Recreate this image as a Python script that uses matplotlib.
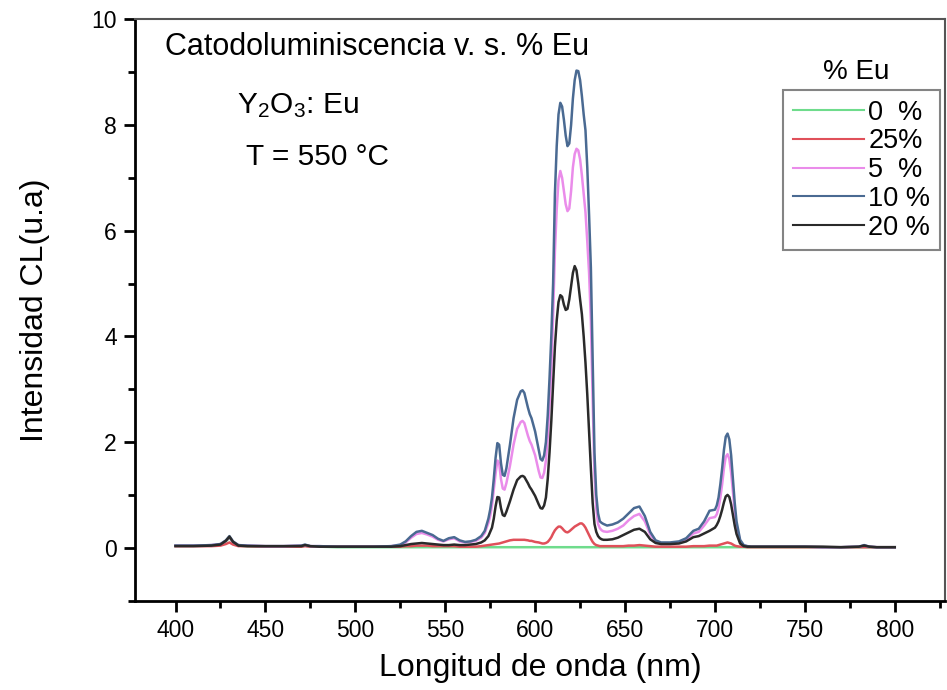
import matplotlib
matplotlib.use("Agg")
import matplotlib.pyplot as plt
from matplotlib.ticker import MultipleLocator

plt.rcParams['font.family'] = ['Liberation Sans', 'DejaVu Sans']
plt.rcParams['mathtext.default'] = 'regular'

# ---- wavelength blocks (nm) ----
wl_a = [400, 410, 420, 425, 428, 430, 432, 435, 440, 450, 460, 470, 472, 475, 480, 490, 500, 510, 520,
        525, 528, 531, 534, 537, 540, 543, 546, 549, 552, 555, 558, 561, 564, 567, 570, 572]
wl_b = [574, 575, 576, 577, 578, 579, 580, 581, 582, 583, 584, 586, 588, 590, 592, 593, 594, 596, 597,
        598, 600, 602, 603]
wl_c = [604, 605, 606, 607, 608, 609, 610, 611, 612, 613, 614, 615, 616, 617, 618, 619, 620, 621, 622,
        623, 624, 625, 626, 627, 628, 629, 630, 631, 632, 633, 634, 635, 636, 637, 638, 640]
wl_d = [643, 646, 649, 652, 655, 658, 661, 664, 667, 670, 675, 680, 684, 688, 691, 694, 697, 700]
wl_e = [701, 702, 703, 704, 705, 706, 707, 708, 709, 710, 711, 712, 714, 716, 718, 720, 725, 730, 740,
        750, 760, 770, 780, 783, 786, 790, 800]

# ---- 10 % Eu ----
eu10_a = [0.04, 0.04, 0.05, 0.07, 0.14, 0.22, 0.12, 0.05, 0.04, 0.03, 0.03, 0.04, 0.06, 0.03, 0.03, 0.02, 0.02, 0.02, 0.03,
          0.06, 0.12, 0.22, 0.30, 0.32, 0.28, 0.24, 0.17, 0.13, 0.18, 0.20, 0.14, 0.11, 0.12, 0.15, 0.22, 0.32]
eu10_b = [0.55, 0.72, 0.95, 1.30, 1.70, 1.98, 1.95, 1.60, 1.38, 1.36, 1.50, 1.95, 2.45, 2.80, 2.96, 2.98, 2.93, 2.65, 2.53,
          2.45, 2.20, 1.85, 1.68]
eu10_c = [1.65, 1.75, 2.00, 2.50, 3.20, 4.00, 5.00, 6.70, 7.60, 8.20, 8.42, 8.35, 8.10, 7.80, 7.60, 7.65, 8.00, 8.50, 8.85,
          9.03, 9.02, 8.85, 8.55, 8.20, 7.90, 7.20, 6.30, 5.30, 3.50, 1.80, 1.00, 0.65, 0.50, 0.47, 0.45, 0.42]
eu10_d = [0.44, 0.48, 0.55, 0.65, 0.75, 0.78, 0.60, 0.30, 0.14, 0.10, 0.10, 0.12, 0.18, 0.32, 0.36, 0.50, 0.70, 0.72]
eu10_e = [0.80, 0.95, 1.20, 1.50, 1.85, 2.10, 2.16, 2.05, 1.75, 1.30, 0.85, 0.50, 0.15, 0.05, 0.03, 0.02, 0.02, 0.02, 0.02,
          0.02, 0.01, 0.01, 0.02, 0.05, 0.02, 0.01, 0.01]

# ---- 5 % Eu ----
eu5_a = [0.04, 0.04, 0.05, 0.07, 0.13, 0.20, 0.11, 0.05, 0.04, 0.03, 0.03, 0.04, 0.05, 0.03, 0.03, 0.02, 0.02, 0.02, 0.03,
         0.05, 0.10, 0.19, 0.26, 0.28, 0.25, 0.21, 0.15, 0.12, 0.16, 0.18, 0.12, 0.10, 0.11, 0.13, 0.19, 0.28]
eu5_b = [0.47, 0.60, 0.80, 1.10, 1.40, 1.65, 1.60, 1.30, 1.12, 1.10, 1.22, 1.55, 1.95, 2.25, 2.38, 2.40, 2.36, 2.12, 2.02,
         1.95, 1.75, 1.45, 1.33]
eu5_c = [1.32, 1.42, 1.65, 2.10, 2.70, 3.40, 4.40, 5.60, 6.40, 6.95, 7.13, 7.00, 6.75, 6.50, 6.37, 6.42, 6.75, 7.20, 7.45,
         7.55, 7.52, 7.35, 7.05, 6.70, 6.35, 5.80, 5.20, 4.30, 2.80, 1.40, 0.75, 0.45, 0.37, 0.33, 0.31, 0.30]
eu5_d = [0.32, 0.36, 0.42, 0.52, 0.60, 0.64, 0.50, 0.25, 0.11, 0.08, 0.08, 0.10, 0.15, 0.27, 0.30, 0.42, 0.56, 0.58]
eu5_e = [0.63, 0.75, 0.95, 1.20, 1.50, 1.72, 1.77, 1.68, 1.42, 1.05, 0.70, 0.42, 0.12, 0.04, 0.03, 0.02, 0.02, 0.02, 0.02,
         0.02, 0.01, 0.01, 0.02, 0.04, 0.02, 0.01, 0.01]

# ---- 20 % Eu ----
eu20_a = [0.03, 0.03, 0.04, 0.06, 0.13, 0.21, 0.11, 0.04, 0.03, 0.03, 0.03, 0.03, 0.05, 0.03, 0.02, 0.02, 0.02, 0.02, 0.02,
          0.03, 0.05, 0.07, 0.08, 0.09, 0.08, 0.07, 0.06, 0.05, 0.05, 0.06, 0.05, 0.05, 0.06, 0.07, 0.10, 0.14]
eu20_b = [0.22, 0.30, 0.38, 0.55, 0.78, 0.96, 0.95, 0.75, 0.62, 0.60, 0.68, 0.88, 1.10, 1.28, 1.35, 1.36, 1.34, 1.22, 1.15,
          1.10, 0.98, 0.82, 0.75]
eu20_c = [0.74, 0.80, 0.95, 1.30, 1.80, 2.40, 3.10, 3.80, 4.30, 4.65, 4.78, 4.75, 4.60, 4.50, 4.52, 4.70, 4.95, 5.20, 5.33,
          5.25, 5.00, 4.70, 4.42, 4.00, 3.50, 2.90, 2.20, 1.50, 0.85, 0.45, 0.30, 0.22, 0.18, 0.16, 0.15, 0.15]
eu20_d = [0.16, 0.19, 0.24, 0.29, 0.34, 0.36, 0.30, 0.16, 0.09, 0.07, 0.07, 0.08, 0.12, 0.20, 0.22, 0.27, 0.32, 0.38]
eu20_e = [0.43, 0.50, 0.60, 0.72, 0.86, 0.97, 1.00, 0.96, 0.82, 0.62, 0.42, 0.26, 0.08, 0.03, 0.02, 0.02, 0.02, 0.02, 0.02,
          0.02, 0.02, 0.01, 0.02, 0.04, 0.02, 0.01, 0.01]

# ---- 25 % Eu ----
eu25_a = [0.03, 0.03, 0.03, 0.04, 0.07, 0.10, 0.06, 0.03, 0.03, 0.02, 0.02, 0.02, 0.03, 0.02, 0.02, 0.02, 0.02, 0.02, 0.02,
          0.02, 0.03, 0.03, 0.04, 0.04, 0.04, 0.03, 0.03, 0.03, 0.03, 0.03, 0.02, 0.02, 0.02, 0.02, 0.03, 0.04]
eu25_b = [0.05, 0.055, 0.06, 0.065, 0.07, 0.075, 0.08, 0.09, 0.10, 0.11, 0.12, 0.14, 0.15, 0.15, 0.15, 0.15, 0.15, 0.14, 0.13,
          0.13, 0.11, 0.10, 0.09]
eu25_c = [0.08, 0.08, 0.09, 0.11, 0.15, 0.20, 0.27, 0.33, 0.37, 0.40, 0.40, 0.37, 0.33, 0.30, 0.29, 0.31, 0.34, 0.37, 0.40,
          0.42, 0.44, 0.46, 0.46, 0.43, 0.38, 0.31, 0.24, 0.17, 0.11, 0.07, 0.05, 0.04, 0.03, 0.03, 0.03, 0.03]
eu25_d = [0.03, 0.03, 0.03, 0.04, 0.04, 0.05, 0.04, 0.03, 0.02, 0.02, 0.02, 0.02, 0.02, 0.03, 0.03, 0.03, 0.04, 0.04]
eu25_e = [0.04, 0.05, 0.06, 0.07, 0.08, 0.09, 0.10, 0.09, 0.08, 0.06, 0.04, 0.03, 0.02, 0.02, 0.01, 0.01, 0.01, 0.01, 0.01,
          0.01, 0.01, 0.01, 0.01, 0.01, 0.01, 0.01, 0.01]

# ---- 0 % Eu ----
eu0_a = [0.04, 0.04, 0.04, 0.06, 0.12, 0.19, 0.10, 0.04, 0.03, 0.02, 0.02, 0.02, 0.04, 0.02, 0.02, 0.01, 0.01, 0.01, 0.01,
         0.01, 0.01, 0.01, 0.01, 0.01, 0.01, 0.01, 0.01, 0.01, 0.01, 0.01, 0.01, 0.01, 0.01, 0.01, 0.01, 0.01]
eu0_rest = [0.01] * (len(wl_b) + len(wl_c) + len(wl_d) + len(wl_e))

wl = wl_a + wl_b + wl_c + wl_d + wl_e
eu10 = eu10_a + eu10_b + eu10_c + eu10_d + eu10_e
eu5 = eu5_a + eu5_b + eu5_c + eu5_d + eu5_e
eu20 = eu20_a + eu20_b + eu20_c + eu20_d + eu20_e
eu25 = eu25_a + eu25_b + eu25_c + eu25_d + eu25_e
eu0 = eu0_a + eu0_rest

labels = ["0  %", "25%", "5  %", "10 %", "20 %"]
series = [eu0, eu25, eu5, eu10, eu20]
colors = ["#6fdc8c", "#e0505a", "#ea8cea", "#4a6a92", "#2a2a2a"]

fig = plt.figure(figsize=(9.47, 6.90), dpi=100)
ax = fig.add_axes([0.1426, 0.1296, 0.8554, 0.8424])

lines = []
for s, c, lab in zip(series, colors, labels):
    ln, = ax.plot(wl, s, color=c, lw=1.8, label=lab, solid_joinstyle='round')
    lines.append(ln)

ax.set_xlim(377.5, 828)
ax.set_ylim(-1, 10)
ax.xaxis.set_major_locator(MultipleLocator(50))
ax.xaxis.set_minor_locator(MultipleLocator(25))
ax.yaxis.set_major_locator(MultipleLocator(2))
ax.yaxis.set_minor_locator(MultipleLocator(1))
ax.tick_params(which='major', direction='out', length=8, width=2, labelsize=16.5, pad=5)
ax.tick_params(which='minor', direction='out', length=5, width=2)
ax.tick_params(top=False, right=False)

for side in ['left', 'bottom']:
    ax.spines[side].set_linewidth(2)
    ax.spines[side].set_color('black')
for side in ['top', 'right']:
    ax.spines[side].set_linewidth(1.5)
    ax.spines[side].set_color('#555555')

ax.set_xlabel("Longitud de onda (nm)", fontsize=23, labelpad=8)
ax.set_ylabel("Intensidad CL(u.a)", fontsize=23, labelpad=30)

fig.text(165 / 947, 1 - 47 / 690, "Catodoluminiscencia v. s. % Eu", fontsize=22, va='center', ha='left')
fig.text(237 / 947, 1 - 106 / 690, "Y$_2$O$_3$: Eu", fontsize=21.5, va='center', ha='left')
fig.text(246 / 947, 1 - 157 / 690, "T = 550 °C", fontsize=21.5, va='center', ha='left')

leg = ax.legend(handles=lines, loc='upper left', bbox_to_anchor=((783 - 135) / 810, 1 - (90 - 19) / 581.5),
                fontsize=19.5, frameon=True, fancybox=False, handlelength=2.65, handletextpad=0.15,
                borderpad=0.35, labelspacing=0.1, borderaxespad=0)
leg.get_frame().set_edgecolor('#666666')
leg.get_frame().set_linewidth(1.5)
for h in leg.get_lines():
    h.set_linewidth(1.5)
fig.text(856 / 947, 1 - 72 / 690, "% Eu", fontsize=20, va='center', ha='center')

fig.savefig("out.png", dpi=100)
